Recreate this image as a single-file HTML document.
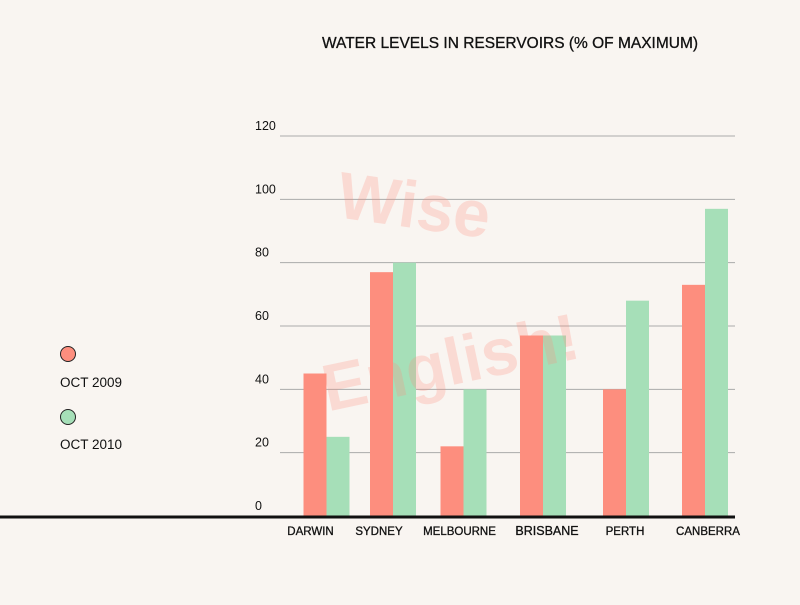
<!DOCTYPE html>
<html><head><meta charset="utf-8"><style>
body{margin:0;background:#f9f5f1;font-family:"Liberation Sans",sans-serif;}
svg text{font-family:"Liberation Sans",sans-serif;}
</style></head><body>
<svg width="800" height="600">
<rect width="800" height="600" fill="#f9f5f1"/>
<text x="510" y="48" font-size="15.5" text-anchor="middle" fill="#111" stroke="#111" stroke-width="0.3">WATER LEVELS IN RESERVOIRS (% OF MAXIMUM)</text>
<g id="grid"></g><g id="bars"></g><g id="xlabels"></g>
<g opacity="0.25" fill="#fd8e7e" font-weight="bold">
<text x="415" y="228" font-size="66" text-anchor="middle" transform="rotate(8 415 200)">Wise</text>
<text x="450" y="385" font-size="66" text-anchor="middle" transform="rotate(-12 450 360)">English!</text>
</g>
<line x1="0" y1="517" x2="735" y2="517" stroke="#111" stroke-width="3"/>
<g>
<circle cx="68" cy="354" r="7.5" fill="#fd8e7e" stroke="#222"/>
<text x="60" y="387" font-size="13.5" fill="#111">OCT 2009</text>
<circle cx="68" cy="417" r="7.5" fill="#a6dfb8" stroke="#222"/>
<text x="60" y="449" font-size="13.5" fill="#111">OCT 2010</text>
</g>
</svg>
<script>
const categories=["DARWIN","SYDNEY","MELBOURNE","BRISBANE","PERTH","CANBERRA"];
const oct2009=[45,77,22,57,40,73];
const oct2010=[25,80,40,57,68,97];
const yTicks=[0,20,40,60,80,100,120];
const NS="http://www.w3.org/2000/svg";
const y=v=>516-v*(380/120);
const groupCenters=[326.5,393,463.5,543,626,705];
const labelShift=[-16,-14,-4,4,-1,3];
const x=i=>groupCenters[i];
const bw=23;
const grid=document.getElementById('grid'),bars=document.getElementById('bars'),xl=document.getElementById('xlabels');
function mk(tag,a,p){const e=document.createElementNS(NS,tag);for(const k in a)e.setAttribute(k,a[k]);p.appendChild(e);return e;}
yTicks.forEach(t=>{
  if(t>0){const l=mk('line',{x1:280,x2:735,y1:y(t),y2:y(t),stroke:'#aaa','stroke-width':1},grid);
  
  }
  const tx=mk('text',{x:255,y:y(t)-6,'font-size':12.5,fill:'#111'},grid);tx.textContent=t;
  
  
});
categories.forEach((c,i)=>{
  const r=mk('rect',{x:x(i)-bw,y:y(oct2009[i]),width:bw,height:516-y(oct2009[i]),fill:'#fd8e7e'},bars);
  
  
  const g=mk('rect',{x:x(i),y:y(oct2010[i]),width:bw,height:516-y(oct2010[i]),fill:'#a6dfb8'},bars);
  
  
  const t=mk('text',{x:x(i)+labelShift[i],y:535,'font-size':i==3?12.5:11.5,'text-anchor':'middle',fill:'#111',stroke:'#111','stroke-width':0.3},xl);t.textContent=c;
  
  
});
</script>
</body></html>
